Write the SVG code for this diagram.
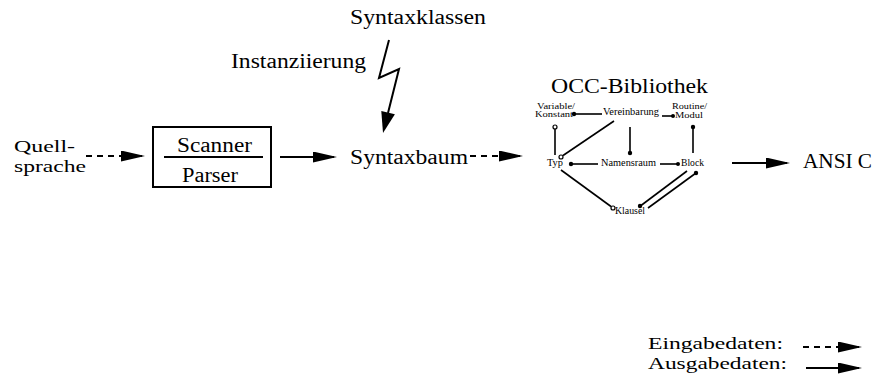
<svg xmlns="http://www.w3.org/2000/svg" width="882" height="380" viewBox="0 0 882 380">
<style>
text{font-family:"Liberation Serif","Times New Roman",serif;fill:#000}
.big{font-size:20px}
.mid{font-size:17.5px}
.sm{font-size:9.5px}
.xs{font-size:8px}
.ln{stroke:#000;stroke-width:2;fill:none}
.dash{stroke-dasharray:6 5}
.thin{stroke:#000;stroke-width:1.6;fill:none}
.dot{fill:#000}
.open{fill:#fff;stroke:#000;stroke-width:1.2}
</style>
<defs>
<marker id="ah" markerUnits="userSpaceOnUse" markerWidth="26" markerHeight="13" refX="21" refY="5.5" orient="auto">
<path d="M0,0 L24,5.5 L0,11 z" fill="#000"/>
</marker>
</defs>
<rect width="882" height="380" fill="#fff"/>

<g id="syntaxklassen"><text class="big" x="350" y="24" textLength="136" lengthAdjust="spacingAndGlyphs">Syntaxklassen</text></g>
<g id="instanziierung"><text class="big" x="231" y="68" textLength="135" lengthAdjust="spacingAndGlyphs">Instanziierung</text></g>
<g id="quellsprache">
<text class="mid" x="14" y="152" textLength="61" lengthAdjust="spacingAndGlyphs">Quell-</text>
<text class="mid" x="14" y="171.5" textLength="72" lengthAdjust="spacingAndGlyphs">sprache</text>
</g>
<g id="scanner-parser">
<rect x="153" y="127" width="118" height="60" fill="none" stroke="#000" stroke-width="2"/>
<line x1="164" y1="157" x2="263" y2="157" stroke="#000" stroke-width="2"/>
<text class="big" x="177" y="151.5" textLength="75" lengthAdjust="spacingAndGlyphs">Scanner</text>
<text class="big" x="182" y="181.5" textLength="56" lengthAdjust="spacingAndGlyphs">Parser</text>
</g>
<g id="syntaxbaum"><text class="big" x="350" y="164" textLength="118" lengthAdjust="spacingAndGlyphs">Syntaxbaum</text></g>
<g id="occ-bibliothek">
<text class="big" x="551" y="93" textLength="157" lengthAdjust="spacingAndGlyphs">OCC-Bibliothek</text>
<text class="xs" x="537" y="109" textLength="38" lengthAdjust="spacingAndGlyphs">Variable/</text>
<text class="xs" x="535" y="117" textLength="38" lengthAdjust="spacingAndGlyphs">Konstant</text>
<text class="sm" x="603" y="115" textLength="56" lengthAdjust="spacingAndGlyphs">Vereinbarung</text>
<text class="xs" x="672" y="109" textLength="35" lengthAdjust="spacingAndGlyphs">Routine/</text>
<text class="xs" x="675" y="117.5" textLength="28" lengthAdjust="spacingAndGlyphs">Modul</text>
<text class="sm" x="547" y="166" textLength="16" lengthAdjust="spacingAndGlyphs">Typ</text>
<text class="sm" x="601" y="166" textLength="55" lengthAdjust="spacingAndGlyphs">Namensraum</text>
<text class="sm" x="681" y="166" textLength="23" lengthAdjust="spacingAndGlyphs">Block</text>
<text class="sm" x="615" y="214" textLength="30" lengthAdjust="spacingAndGlyphs">Klausel</text>
<g id="occ-links">
<line class="thin" x1="574" y1="114" x2="602" y2="114"/>
<circle class="dot" cx="574" cy="114" r="2.2"/>
<line class="thin" x1="662" y1="116" x2="673" y2="116"/>
<circle class="dot" cx="673" cy="116" r="2"/>
<line class="thin" x1="555" y1="129" x2="555" y2="155"/>
<circle class="open" cx="555" cy="127" r="2"/>
<line class="thin" x1="614" y1="121" x2="563" y2="155.5"/>
<circle class="open" cx="561" cy="157" r="2"/>
<line class="thin" x1="630" y1="127" x2="630" y2="153"/>
<circle class="dot" cx="630" cy="153" r="2.2"/>
<line class="thin" x1="693" y1="127" x2="693" y2="153"/>
<circle class="dot" cx="693" cy="127" r="2.2"/>
<line class="thin" x1="571" y1="164" x2="598" y2="164"/>
<circle class="dot" cx="571" cy="164" r="2.2"/>
<line class="thin" x1="660" y1="164" x2="678" y2="164"/>
<circle class="dot" cx="678" cy="164" r="2"/>
<line class="thin" x1="561" y1="170" x2="611" y2="206.5"/>
<circle class="open" cx="613" cy="208" r="2"/>
<line class="thin" x1="687" y1="171" x2="641" y2="205.5"/>
<circle class="dot" cx="640" cy="206" r="2.2"/>
<line class="thin" x1="696" y1="173" x2="648" y2="208"/>
<circle class="dot" cx="696" cy="173" r="2.2"/>
</g>
</g>
<g id="ansi-c"><text class="big" x="803" y="168" textLength="69" lengthAdjust="spacingAndGlyphs">ANSI C</text></g>
<g id="legend">
<text class="mid" x="648" y="349" textLength="135" lengthAdjust="spacingAndGlyphs">Eingabedaten:</text>
<text class="mid" x="648" y="368.5" textLength="139" lengthAdjust="spacingAndGlyphs">Ausgabedaten:</text>
</g>

<g id="connectors">
<line class="ln dash" x1="86" y1="156" x2="142" y2="156" marker-end="url(#ah)"/>
<line class="ln" x1="280" y1="157" x2="334" y2="157" marker-end="url(#ah)"/>
<line class="ln dash" x1="470" y1="156" x2="520" y2="156" marker-end="url(#ah)"/>
<line class="ln" x1="732" y1="163" x2="787" y2="163" marker-end="url(#ah)"/>
<polyline class="ln" points="389,40 379,78 399,69 388,113"/>
<polygon points="383,133 381.3,110.9 394.9,114.3" fill="#000"/>
<line class="ln dash" x1="803" y1="347" x2="859" y2="347" marker-end="url(#ah)"/>
<line class="ln" x1="806" y1="368" x2="859" y2="368" marker-end="url(#ah)"/>
</g>
</svg>
